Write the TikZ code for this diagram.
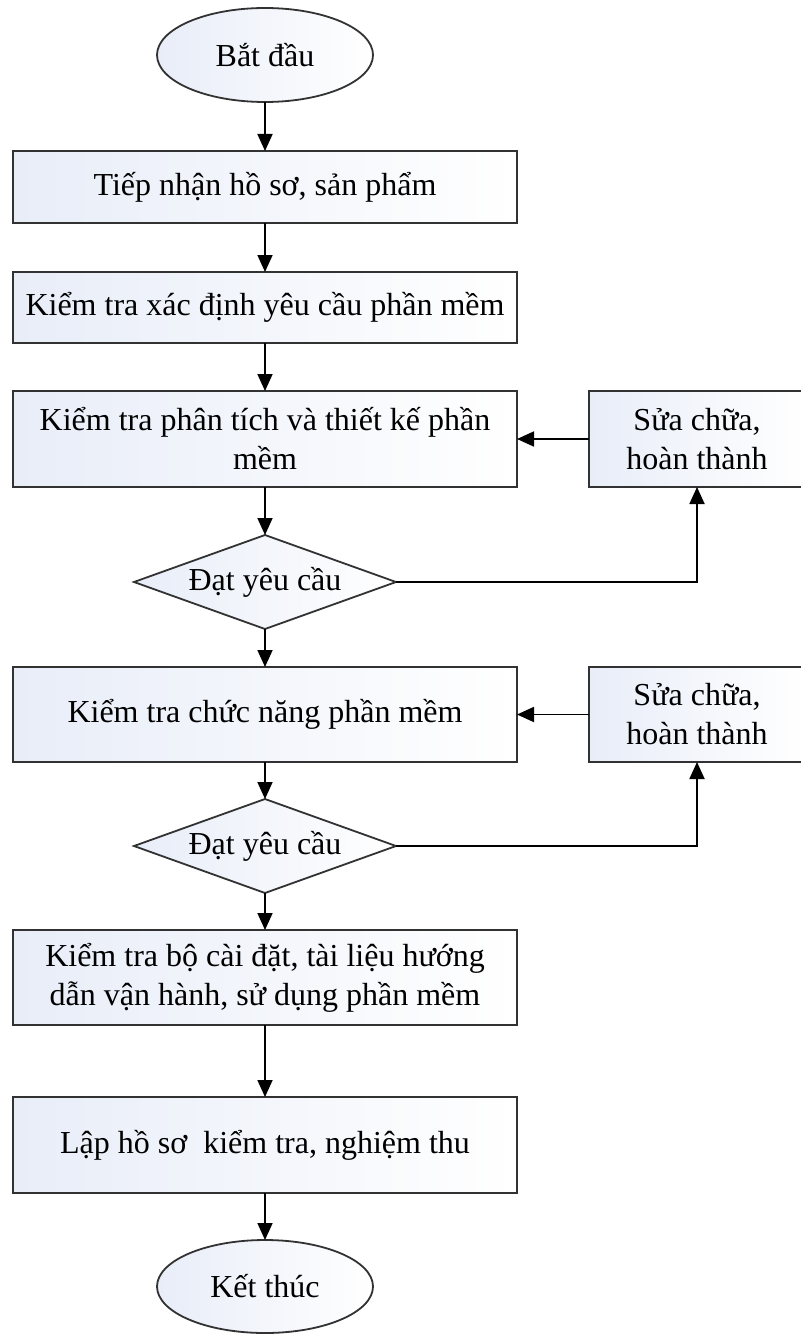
\documentclass[tikz,border=0pt]{standalone}
\usepackage{fontspec}
\setmainfont{Liberation Serif}
\usetikzlibrary{shapes.geometric,arrows.meta}
\definecolor{shadeblue}{RGB}{232,237,248}
\definecolor{edgegray}{RGB}{50,50,50}
\begin{document}
\begin{tikzpicture}[x=1pt,y=-1pt,
  base/.style={draw=edgegray, line width=1.8pt, left color=shadeblue, right color=white,
    font=\fontsize{32}{39}\selectfont, align=center, inner sep=0pt, outer sep=0pt},
  procbox/.style={base, rectangle, minimum width=504pt, minimum height=#1},
  fixbox/.style={base, rectangle, minimum width=216pt, minimum height=#1},
  term/.style={base, ellipse, minimum width=216pt, minimum height=94pt},
  decision/.style={base, diamond, aspect=2.8, minimum width=262pt, minimum height=94pt},
  conn/.style={draw=black, line width=1.8pt, -{Triangle[width=15pt,length=17pt]}}
]
\fill[white] (0,0) rectangle (800,1335);
\useasboundingbox (0,0) rectangle (800,1335);

\node[term] (start) at (265,55) {Bắt đầu};
\node[procbox=72pt] (b1) at (265,187) {Tiếp nhận hồ sơ, sản phẩm};
\node[procbox=71pt] (b2) at (265,307.5) {Kiểm tra xác định yêu cầu phần mềm};
\node[procbox=96pt] (b3) at (265,439) {Kiểm tra phân tích và thiết kế phần\\mềm};
\node[fixbox=96pt] (f1) at (697,439) {Sửa chữa,\\hoàn thành};
\node[decision] (d1) at (265,582) {Đạt yêu cầu};
\node[procbox=95pt] (b4) at (265,714.5) {Kiểm tra chức năng phần mềm};
\node[fixbox=95pt] (f2) at (697,714.5) {Sửa chữa,\\hoàn thành};
\node[decision] (d2) at (265,846) {Đạt yêu cầu};
\node[procbox=95pt] (b5) at (265,977.5) {Kiểm tra bộ cài đặt, tài liệu hướng\\dẫn vận hành, sử dụng phần mềm};
\node[procbox=96pt] (b6) at (265,1145) {Lập hồ sơ \ kiểm tra, nghiệm thu};
\node[term, minimum height=93pt] (end) at (265,1286.5) {Kết thúc};

\draw[conn] (start) -- (b1);
\draw[conn] (b1) -- (b2);
\draw[conn] (b2) -- (b3);
\draw[conn] (b3) -- (d1);
\draw[conn] (d1) -- (b4);
\draw[conn] (b4) -- (d2);
\draw[conn] (d2) -- (b5);
\draw[conn] (b5) -- (b6);
\draw[conn] (b6) -- (end);
\draw[conn] (f1) -- (b3);
\draw[conn] (d1.east) -| (f1.south);
\draw[conn] (f2) -- (b4);
\draw[conn] (d2.east) -| (f2.south);
\end{tikzpicture}
\end{document}
